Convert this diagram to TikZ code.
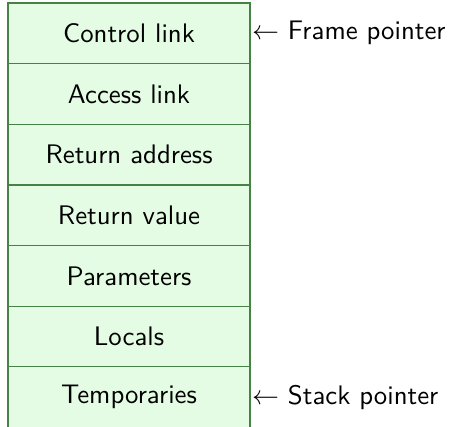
\documentclass[tikz,border=0pt]{standalone}
\usetikzlibrary{positioning}
\definecolor{cellborder}{RGB}{70,130,70}
\definecolor{cellfill}{RGB}{228,252,228}
\begin{document}
\begin{tikzpicture}[x=0.4065pt,y=-0.4065pt,
  cell/.style={draw=cellborder,fill=cellfill,line width=0.5pt,minimum width=98.4pt,minimum height=24.65pt,inner sep=0pt,outer sep=0pt,font=\fontsize{10.9}{13}\sffamily},
  ptr/.style={anchor=west,inner sep=0pt,font=\fontsize{10.9}{13}\sffamily}]
\useasboundingbox (0,0) rectangle (449,426);
\begin{scope}
\clip (0,0) rectangle (449,426);
\node[cell,anchor=north west] (c1) at (8,3) {Control link};
\node[cell,anchor=north] (c2) at (c1.south) {Access link};
\node[cell,anchor=north] (c3) at (c2.south) {Return address};
\node[cell,anchor=north] (c4) at (c3.south) {Return value};
\node[cell,anchor=north] (c5) at (c4.south) {Parameters};
\node[cell,anchor=north] (c6) at (c5.south) {Locals};
\node[cell,anchor=north] (c7) at (c6.south) {Temporaries};
\end{scope}
\node[ptr] (fp) at ([xshift=0.6pt]c1.east) {$\leftarrow$ Frame pointer};
\node[ptr] (sp) at ([xshift=0.6pt]c7.east) {$\leftarrow$ Stack pointer};
\end{tikzpicture}
\end{document}
